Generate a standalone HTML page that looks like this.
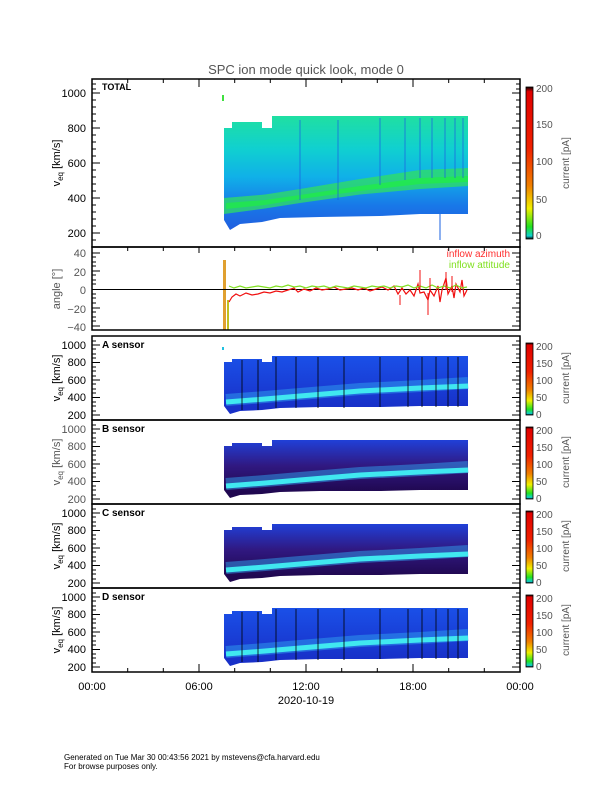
<!DOCTYPE html>
<html><head><meta charset="utf-8"><style>
body{margin:0;background:#fff}
svg{display:block;font-family:"Liberation Sans","DejaVu Sans",sans-serif}
</style></head><body>
<svg width="612" height="792" viewBox="0 0 612 792" xmlns="http://www.w3.org/2000/svg">
<defs>
<linearGradient id="cb" x1="0" y1="1" x2="0" y2="0">
<stop offset="0" stop-color="#000"/><stop offset="0.02" stop-color="#10d0d0"/><stop offset="0.08" stop-color="#20e020"/>
<stop offset="0.2" stop-color="#f0f000"/><stop offset="0.35" stop-color="#f08000"/><stop offset="0.6" stop-color="#f02000"/>
<stop offset="0.97" stop-color="#e00000"/><stop offset="1" stop-color="#000"/></linearGradient>
<linearGradient id="tot" gradientUnits="userSpaceOnUse" x1="0" y1="115" x2="0" y2="228">
<stop offset="0" stop-color="#20e0a0"/><stop offset="0.3" stop-color="#10d0d0"/><stop offset="0.55" stop-color="#10b0e8"/>
<stop offset="0.8" stop-color="#1878e8"/><stop offset="1" stop-color="#2060e0"/></linearGradient>
<linearGradient id="sa" gradientUnits="userSpaceOnUse" x1="0" y1="356" x2="0" y2="408">
<stop offset="0" stop-color="#1a50e8"/><stop offset="1" stop-color="#1830c8"/></linearGradient>
<linearGradient id="sb" gradientUnits="userSpaceOnUse" x1="0" y1="356" x2="0" y2="408">
<stop offset="0" stop-color="#2040d8"/><stop offset="0.5" stop-color="#301880"/><stop offset="1" stop-color="#200850"/></linearGradient>
</defs>

<text x="306" y="74" font-size="13" fill="#555" text-anchor="middle">SPC ion mode quick look, mode 0</text>

<polygon points="224,220 224,128 232,128 232,122 262,122 262,128 272,128 272,116 468,116 468,214 420,214 380,216 320,217 280,218 262,222 240,224 230,230" fill="url(#tot)"/>
<polygon points="224,198 265,194.5 300,189 360,179 420,170 468,168 468,186 420,189 360,194.5 300,203 265,208.5 224,214" fill="#30e060" opacity="0.75"/>
<polygon points="226,203 265,200 300,195 360,186 420,178 468,176 468,182 420,184 360,191 300,199 265,205 226,209" fill="#20f040" opacity="0.7"/>
<g stroke="#1a60e0" stroke-width="1.2" opacity="0.6">
<line x1="300" y1="120" x2="300" y2="200"/><line x1="338" y1="120" x2="338" y2="200"/><line x1="380" y1="118" x2="380" y2="185"/>
<line x1="405" y1="118" x2="405" y2="180"/><line x1="420" y1="118" x2="420" y2="178"/><line x1="432" y1="118" x2="432" y2="178"/>
<line x1="445" y1="118" x2="445" y2="178"/><line x1="455" y1="118" x2="455" y2="178"/><line x1="463" y1="118" x2="463" y2="178"/></g>
<rect x="222" y="95" width="2" height="6" fill="#40e040"/>
<line x1="440" y1="214" x2="440" y2="240" stroke="#1a60e0"/>

<rect x="92" y="79" width="428" height="168" fill="none" stroke="#000" stroke-width="1.5"/>
<text x="102" y="90" font-size="9" font-weight="bold">TOTAL</text>
<g font-size="11" text-anchor="end" fill="#000">
<text x="86" y="97">1000</text><text x="86" y="132">800</text><text x="86" y="167">600</text><text x="86" y="202">400</text><text x="86" y="237">200</text></g>
<g stroke="#000" stroke-width="1">
<path d="M92 93h8M92 128h8M92 163h8M92 198h8M92 233h8M520 93h-8M520 128h-8M520 163h-8M520 198h-8M520 233h-8"/>
<path d="M92 84h4M92 89h4M92 100h4M92 107h4M92 114h4M92 121h4M92 135h4M92 142h4M92 149h4M92 156h4M92 170h4M92 177h4M92 184h4M92 191h4M92 205h4M92 212h4M92 219h4M92 226h4M92 240h4M516 84h4M516 89h4M516 100h4M516 107h4M516 114h4M516 121h4M516 135h4M516 142h4M516 149h4M516 156h4M516 170h4M516 177h4M516 184h4M516 191h4M516 205h4M516 212h4M516 219h4M516 226h4M516 240h4"/>
</g>
<text transform="translate(60,163) rotate(-90)" font-size="11" text-anchor="middle">v<tspan font-size="8" dy="3">eq</tspan><tspan dy="-3"> [km/s]</tspan></text>
<rect x="526" y="87" width="7" height="152" fill="url(#cb)" stroke="#000" stroke-width="0.8"/>
<g font-size="10" fill="#555"><text x="536" y="92">200</text><text x="536" y="128">150</text><text x="536" y="165">100</text><text x="536" y="203">50</text><text x="536" y="239">0</text></g>
<text transform="translate(569,163) rotate(-90)" font-size="10" fill="#555" text-anchor="middle">current [pA]</text>

<rect x="223" y="260" width="3" height="70" fill="#e0a030"/>
<rect x="227" y="300" width="2" height="30" fill="#c0c020"/>
<line x1="92" y1="289.5" x2="520" y2="289.5" stroke="#000"/>
<polyline fill="none" stroke="#f01010" stroke-width="1.2" points="229,302 232,297 236,294 240,296 246,293 252,295 258,294 264,292 270,293 276,291 282,292 288,290 294,288 298,292 304,289 310,291 316,288 322,290 328,289 334,287 340,290 346,289 352,288 358,290 364,288 370,291 376,289 382,287 388,290 394,286 398,294 402,288 406,294 410,290 414,296 418,284 420,293 424,292 428,300 430,290 434,296 438,286 440,302 442,290 446,278 448,294 452,286 454,298 456,284 460,292 462,280 464,296 467,290"/>
<polyline fill="none" stroke="#80e020" stroke-width="1.2" points="229,286 234,288 240,286 246,288 252,287 258,286 264,287 270,288 276,286 282,287 288,285 294,287 300,286 306,288 312,286 318,287 324,286 330,288 336,286 342,287 348,288 354,286 360,287 366,288 372,286 378,287 384,286 390,288 396,286 402,287 408,285 414,288 420,286 426,288 432,285 438,288 444,286 450,288 456,285 462,288 467,287"/>
<g stroke="#f01010" stroke-width="1"><line x1="420" y1="270" x2="420" y2="290"/><line x1="446" y1="272" x2="446" y2="290"/><line x1="452" y1="276" x2="452" y2="292"/><line x1="430" y1="278" x2="430" y2="290"/><line x1="400" y1="295" x2="400" y2="305"/><line x1="428" y1="293" x2="428" y2="315"/></g>
<rect x="92" y="247" width="428" height="83" fill="none" stroke="#000" stroke-width="1.5"/>
<g font-size="11" text-anchor="end" fill="#555">
<text x="86" y="257">40</text><text x="86" y="276">20</text><text x="86" y="294">0</text><text x="86" y="313">−20</text><text x="86" y="331">−40</text></g>
<g stroke="#000"><path d="M92 253h8M92 271h8M92 289.5h8M92 308h8M92 326h8M520 253h-8M520 271h-8M520 308h-8M520 326h-8"/>
<path d="M92 257h4M92 262h4M92 266h4M92 275h4M92 280h4M92 284h4M92 294h4M92 298h4M92 303h4M92 312h4M92 317h4M92 321h4M516 257h4M516 262h4M516 266h4M516 275h4M516 280h4M516 284h4M516 294h4M516 298h4M516 303h4M516 312h4M516 317h4M516 321h4"/></g>
<text transform="translate(60,289) rotate(-90)" font-size="11" fill="#555" text-anchor="middle">angle [°]</text>
<text x="510" y="257" font-size="10" fill="#ff3030" text-anchor="end">inflow azimuth</text>
<text x="510" y="268" font-size="10" fill="#80e020" text-anchor="end">inflow attitude</text>

<g>
<polygon points="224,406 224,362 232,362 232,359 262,359 262,362 272,362 272,356 468,356 468,406 420,406 380,407 320,407 280,408 262,410 240,411 230,414" fill="url(#sa)"/>
<polyline fill="none" stroke="#30a0f0" stroke-width="12" opacity="0.5" points="226,400 265,397 300,394 360,389 420,386 468,383"/>
<polyline fill="none" stroke="#40e8f0" stroke-width="5" points="226,402 265,399 300,396 360,391 420,388 468,386"/>
<g stroke="#000" stroke-width="1" opacity="0.8"><line x1="242" y1="360" x2="242" y2="410"/><line x1="258" y1="360" x2="258" y2="410"/><line x1="276" y1="357" x2="276" y2="408"/><line x1="296" y1="357" x2="296" y2="408"/><line x1="318" y1="357" x2="318" y2="408"/><line x1="344" y1="357" x2="344" y2="408"/><line x1="380" y1="357" x2="380" y2="407"/><line x1="408" y1="357" x2="408" y2="407"/><line x1="422" y1="357" x2="422" y2="407"/><line x1="436" y1="357" x2="436" y2="407"/><line x1="448" y1="357" x2="448" y2="407"/><line x1="458" y1="357" x2="458" y2="407"/></g>
<rect x="222" y="347" width="2" height="3" fill="#20c0e0"/>
<rect x="92" y="336" width="428" height="84" fill="none" stroke="#000" stroke-width="1.5"/>
<g font-size="11" text-anchor="end"><text x="86" y="349">1000</text><text x="86" y="366">800</text><text x="86" y="384">600</text><text x="86" y="401">400</text><text x="86" y="419">200</text></g>
<g stroke="#000"><path d="M92 345h8M92 362.5h8M92 380h8M92 397.5h8M92 415h8M520 345h-8M520 362.5h-8M520 380h-8M520 397.5h-8M520 415h-8"/>
<path d="M92 341h4M92 349h4M92 354h4M92 358h4M92 367h4M92 371h4M92 376h4M92 384h4M92 389h4M92 393h4M92 402h4M92 406h4M92 411h4M516 341h4M516 349h4M516 354h4M516 358h4M516 367h4M516 371h4M516 376h4M516 384h4M516 389h4M516 393h4M516 402h4M516 406h4M516 411h4"/></g>
<text transform="translate(60,378) rotate(-90)" font-size="11" text-anchor="middle">v<tspan font-size="8" dy="3">eq</tspan><tspan dy="-3"> [km/s]</tspan></text>
<rect x="526" y="343" width="7" height="72" fill="url(#cb)" stroke="#000" stroke-width="0.8"/>
<g font-size="10" fill="#555"><text x="536" y="350">200</text><text x="536" y="367">150</text><text x="536" y="384">100</text><text x="536" y="401">50</text><text x="536" y="418">0</text></g>
<text transform="translate(569,378) rotate(-90)" font-size="10" fill="#555" text-anchor="middle">current [pA]</text>
</g>
<text x="102" y="348" font-size="10" font-weight="bold">A sensor</text>

<g transform="translate(0,84)">
<polygon points="224,406 224,362 232,362 232,359 262,359 262,362 272,362 272,356 468,356 468,406 420,406 380,407 320,407 280,408 262,410 240,411 230,414" fill="url(#sb)"/>
<polyline fill="none" stroke="#30a0f0" stroke-width="12" opacity="0.5" points="226,400 265,397 300,394 360,389 420,386 468,383"/>
<polyline fill="none" stroke="#40e8f0" stroke-width="5" points="226,402 265,399 300,396 360,391 420,388 468,386"/>
<rect x="92" y="336" width="428" height="84" fill="none" stroke="#000" stroke-width="1.5"/>
<g font-size="11" text-anchor="end" fill="#555"><text x="86" y="349">1000</text><text x="86" y="366">800</text><text x="86" y="384">600</text><text x="86" y="401">400</text><text x="86" y="419">200</text></g>
<g stroke="#000"><path d="M92 345h8M92 362.5h8M92 380h8M92 397.5h8M92 415h8M520 345h-8M520 362.5h-8M520 380h-8M520 397.5h-8M520 415h-8"/>
<path d="M92 341h4M92 349h4M92 354h4M92 358h4M92 367h4M92 371h4M92 376h4M92 384h4M92 389h4M92 393h4M92 402h4M92 406h4M92 411h4M516 341h4M516 349h4M516 354h4M516 358h4M516 367h4M516 371h4M516 376h4M516 384h4M516 389h4M516 393h4M516 402h4M516 406h4M516 411h4"/></g>
<text transform="translate(60,378) rotate(-90)" font-size="11" fill="#555" text-anchor="middle">v<tspan font-size="8" dy="3">eq</tspan><tspan dy="-3"> [km/s]</tspan></text>
<rect x="526" y="343" width="7" height="72" fill="url(#cb)" stroke="#000" stroke-width="0.8"/>
<g font-size="10" fill="#555"><text x="536" y="350">200</text><text x="536" y="367">150</text><text x="536" y="384">100</text><text x="536" y="401">50</text><text x="536" y="418">0</text></g>
<text transform="translate(569,378) rotate(-90)" font-size="10" fill="#555" text-anchor="middle">current [pA]</text>
<text x="102" y="348" font-size="10" font-weight="bold">B sensor</text>
</g>
<g transform="translate(0,168)">
<polygon points="224,406 224,362 232,362 232,359 262,359 262,362 272,362 272,356 468,356 468,406 420,406 380,407 320,407 280,408 262,410 240,411 230,414" fill="url(#sb)"/>
<polyline fill="none" stroke="#30a0f0" stroke-width="12" opacity="0.5" points="226,400 265,397 300,394 360,389 420,386 468,383"/>
<polyline fill="none" stroke="#40e8f0" stroke-width="5" points="226,402 265,399 300,396 360,391 420,388 468,386"/>
<rect x="92" y="336" width="428" height="84" fill="none" stroke="#000" stroke-width="1.5"/>
<g font-size="11" text-anchor="end"><text x="86" y="349">1000</text><text x="86" y="366">800</text><text x="86" y="384">600</text><text x="86" y="401">400</text><text x="86" y="419">200</text></g>
<g stroke="#000"><path d="M92 345h8M92 362.5h8M92 380h8M92 397.5h8M92 415h8M520 345h-8M520 362.5h-8M520 380h-8M520 397.5h-8M520 415h-8"/>
<path d="M92 341h4M92 349h4M92 354h4M92 358h4M92 367h4M92 371h4M92 376h4M92 384h4M92 389h4M92 393h4M92 402h4M92 406h4M92 411h4M516 341h4M516 349h4M516 354h4M516 358h4M516 367h4M516 371h4M516 376h4M516 384h4M516 389h4M516 393h4M516 402h4M516 406h4M516 411h4"/></g>
<text transform="translate(60,378) rotate(-90)" font-size="11" text-anchor="middle">v<tspan font-size="8" dy="3">eq</tspan><tspan dy="-3"> [km/s]</tspan></text>
<rect x="526" y="343" width="7" height="72" fill="url(#cb)" stroke="#000" stroke-width="0.8"/>
<g font-size="10" fill="#555"><text x="536" y="350">200</text><text x="536" y="367">150</text><text x="536" y="384">100</text><text x="536" y="401">50</text><text x="536" y="418">0</text></g>
<text transform="translate(569,378) rotate(-90)" font-size="10" fill="#555" text-anchor="middle">current [pA]</text>
<text x="102" y="348" font-size="10" font-weight="bold">C sensor</text>
</g>
<g transform="translate(0,252)">
<polygon points="224,406 224,362 232,362 232,359 262,359 262,362 272,362 272,356 468,356 468,406 420,406 380,407 320,407 280,408 262,410 240,411 230,414" fill="url(#sa)"/>
<polyline fill="none" stroke="#30a0f0" stroke-width="12" opacity="0.5" points="226,400 265,397 300,394 360,389 420,386 468,383"/>
<polyline fill="none" stroke="#40e8f0" stroke-width="5" points="226,402 265,399 300,396 360,391 420,388 468,386"/>
<g stroke="#000" stroke-width="1" opacity="0.8"><line x1="242" y1="360" x2="242" y2="410"/><line x1="258" y1="360" x2="258" y2="410"/><line x1="276" y1="357" x2="276" y2="408"/><line x1="296" y1="357" x2="296" y2="408"/><line x1="318" y1="357" x2="318" y2="408"/><line x1="344" y1="357" x2="344" y2="408"/><line x1="380" y1="357" x2="380" y2="407"/><line x1="408" y1="357" x2="408" y2="407"/><line x1="422" y1="357" x2="422" y2="407"/><line x1="436" y1="357" x2="436" y2="407"/><line x1="448" y1="357" x2="448" y2="407"/><line x1="458" y1="357" x2="458" y2="407"/></g>
<rect x="92" y="336" width="428" height="84" fill="none" stroke="#000" stroke-width="1.5"/>
<g font-size="11" text-anchor="end"><text x="86" y="349">1000</text><text x="86" y="366">800</text><text x="86" y="384">600</text><text x="86" y="401">400</text><text x="86" y="419">200</text></g>
<g stroke="#000"><path d="M92 345h8M92 362.5h8M92 380h8M92 397.5h8M92 415h8M520 345h-8M520 362.5h-8M520 380h-8M520 397.5h-8M520 415h-8"/>
<path d="M92 341h4M92 349h4M92 354h4M92 358h4M92 367h4M92 371h4M92 376h4M92 384h4M92 389h4M92 393h4M92 402h4M92 406h4M92 411h4M516 341h4M516 349h4M516 354h4M516 358h4M516 367h4M516 371h4M516 376h4M516 384h4M516 389h4M516 393h4M516 402h4M516 406h4M516 411h4"/></g>
<text transform="translate(60,378) rotate(-90)" font-size="11" text-anchor="middle">v<tspan font-size="8" dy="3">eq</tspan><tspan dy="-3"> [km/s]</tspan></text>
<rect x="526" y="343" width="7" height="72" fill="url(#cb)" stroke="#000" stroke-width="0.8"/>
<g font-size="10" fill="#555"><text x="536" y="350">200</text><text x="536" y="367">150</text><text x="536" y="384">100</text><text x="536" y="401">50</text><text x="536" y="418">0</text></g>
<text transform="translate(569,378) rotate(-90)" font-size="10" fill="#555" text-anchor="middle">current [pA]</text>
<text x="102" y="348" font-size="10" font-weight="bold">D sensor</text>
</g>

<g stroke="#000">
<path d="M92 672v-8M199 672v-8M306 672v-8M413 672v-8M520 672v-8M127.7 672v-4M163.3 672v-4M234.7 672v-4M270.3 672v-4M341.7 672v-4M377.3 672v-4M448.7 672v-4M484.3 672v-4"/>
<path d="M92 79v8M199 79v8M306 79v8M413 79v8M127.7 79v4M163.3 79v4M234.7 79v4M270.3 79v4M341.7 79v4M377.3 79v4M448.7 79v4M484.3 79v4"/>
<path d="M127.7 247v4M163.3 247v4M199 247v6M234.7 247v4M270.3 247v4M306 247v6M341.7 247v4M377.3 247v4M413 247v6M448.7 247v4M484.3 247v4"/>
</g>
<g font-size="11" text-anchor="middle">
<text x="92" y="690">00:00</text><text x="199" y="690">06:00</text><text x="306" y="690">12:00</text><text x="413" y="690">18:00</text><text x="520" y="690">00:00</text>
<text x="306" y="704">2020-10-19</text></g>
<g font-size="8"><text x="64" y="760">Generated on Tue Mar 30 00:43:56 2021 by mstevens@cfa.harvard.edu</text><text x="64" y="769">For browse purposes only.</text></g>
</svg>
</body></html>
